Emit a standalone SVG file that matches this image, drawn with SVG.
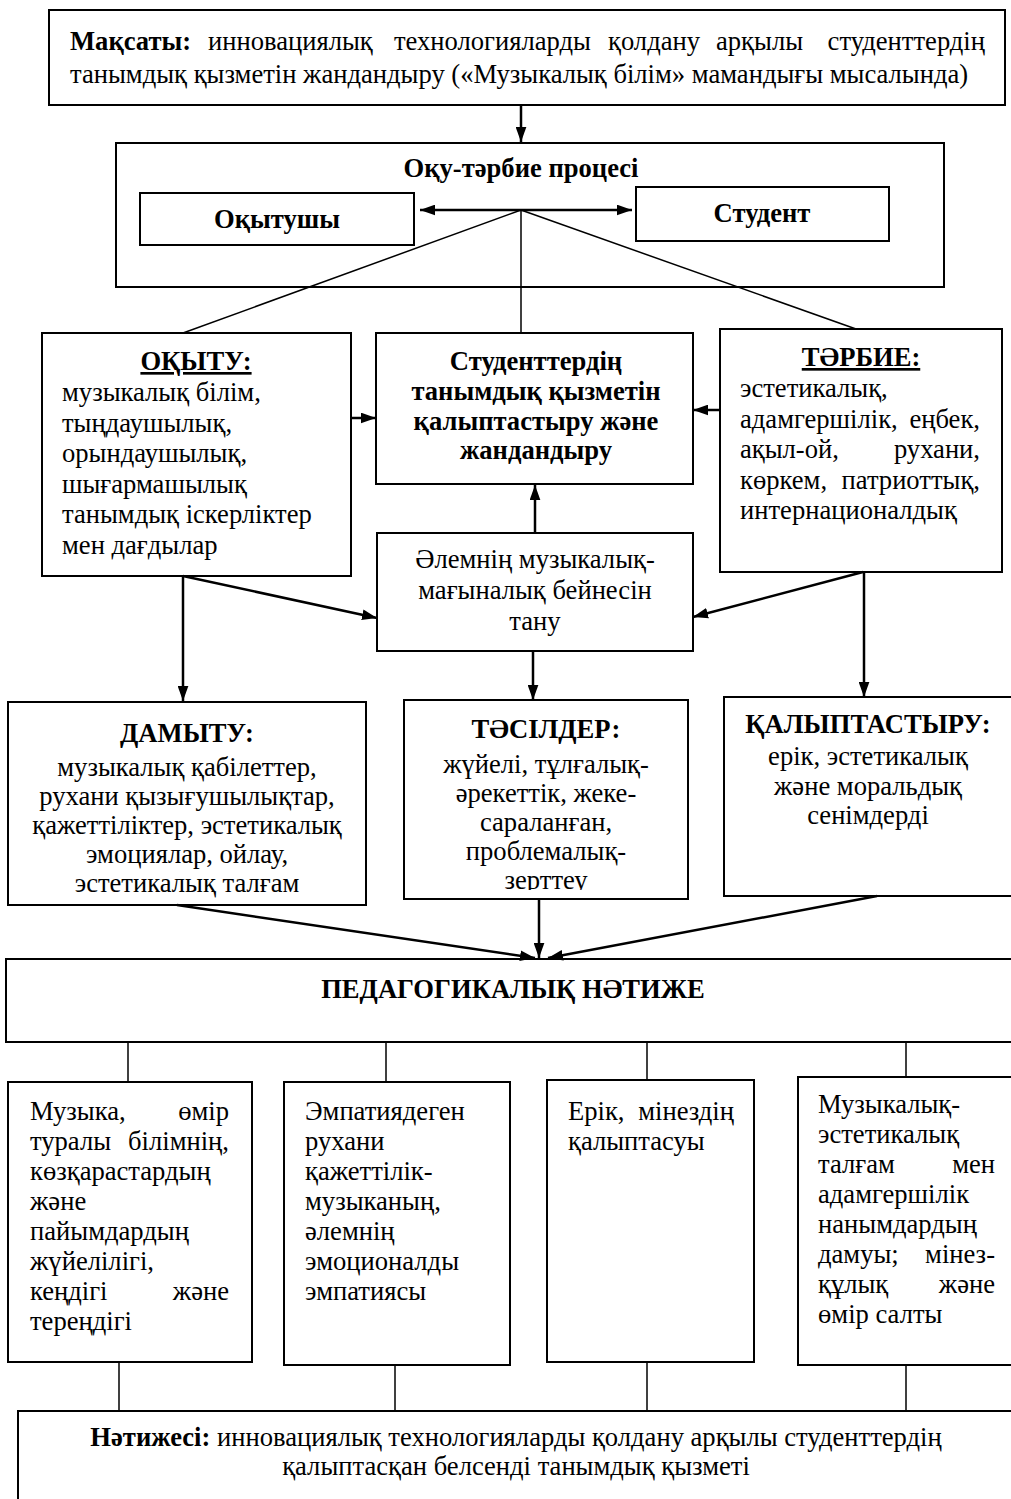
<svg xmlns="http://www.w3.org/2000/svg" width="1011" height="1499" viewBox="0 0 1011 1499">
<style>
text{font-family:"Liberation Serif","Times New Roman",serif;font-size:26.6px;fill:#000}
.b{font-weight:bold}
.c{text-anchor:middle}
.e{text-anchor:end}
.u{text-decoration:underline}
.box{fill:#fff;stroke:#000;stroke-width:2}
.ar{stroke:#000;stroke-width:2.5;fill:none}
.th{stroke:#000;stroke-width:1.5;fill:none}
</style>
<defs>
<marker id="ah" viewBox="0 0 14 10" refX="14" refY="5" markerWidth="15" markerHeight="11" markerUnits="userSpaceOnUse" orient="auto-start-reverse">
<path d="M0,0 L14,5 L0,10 Z" fill="#000"/>
</marker>
<clipPath id="clipT"><rect x="404" y="700" width="284" height="190"/></clipPath>
</defs>
<rect width="1011" height="1499" fill="#fff"/>

<g id="goal">
<rect class="box" x="49" y="10" width="956" height="95"/>
<text x="70" y="50" class="b">Мақсаты:</text>
<text x="208" y="50">инновациялық</text>
<text x="394" y="50">технологияларды</text>
<text x="608" y="50">қолдану</text>
<text x="716" y="50">арқылы</text>
<text x="985" y="50" class="e">студенттердің</text>
<text x="70" y="83">танымдық қызметін жандандыру («Музыкалық білім» мамандығы мысалында)</text>
</g>

<g id="process">
<rect class="box" x="116" y="143" width="828" height="144"/>
<text x="521" y="177" class="b c">Оқу-тәрбие процесі</text>
</g>
<g id="teacher">
<rect class="box" x="140" y="193" width="274" height="52"/>
<text x="277" y="228" class="b c">Оқытушы</text>
</g>
<g id="student">
<rect class="box" x="636" y="187" width="253" height="54"/>
<text x="762" y="222" class="b c">Студент</text>
</g>

<g id="oqytu">
<rect class="box" x="42" y="333" width="309" height="243"/>
<text x="196" y="370" class="b c u">ОҚЫТУ:</text>
<text x="62" y="401">музыкалық білім,</text>
<text x="62" y="432">тыңдаушылық,</text>
<text x="62" y="462">орындаушылық,</text>
<text x="62" y="493">шығармашылық</text>
<text x="62" y="523">танымдық іскерліктер</text>
<text x="62" y="554">мен дағдылар</text>
</g>

<g id="center">
<rect class="box" x="376" y="333" width="317" height="151"/>
<text x="536" y="370" class="b c">Студенттердің</text>
<text x="536" y="400" class="b c">танымдық қызметін</text>
<text x="536" y="430" class="b c">қалыптастыру және</text>
<text x="536" y="459" class="b c">жандандыру</text>
</g>

<g id="tarbie">
<rect class="box" x="720" y="329" width="282" height="243"/>
<text x="861" y="366" class="b c u">ТӘРБИЕ:</text>
<text x="740" y="397">эстетикалық,</text>
<text x="740" y="428">адамгершілік,</text>
<text x="980" y="428" class="e">еңбек,</text>
<text x="740" y="458">ақыл-ой,</text>
<text x="980" y="458" class="e">рухани,</text>
<text x="740" y="489">көркем,</text>
<text x="980" y="489" class="e">патриоттық,</text>
<text x="740" y="519">интернационалдық</text>
</g>

<g id="world">
<rect class="box" x="377" y="533" width="316" height="118"/>
<text x="535" y="568" class="c">Әлемнің музыкалық-</text>
<text x="535" y="599" class="c">мағыналық бейнесін</text>
<text x="535" y="630" class="c">тану</text>
</g>

<g id="damytu">
<rect class="box" x="8" y="702" width="358" height="203"/>
<text x="187" y="742" class="b c">ДАМЫТУ:</text>
<text x="187" y="776" class="c">музыкалық қабілеттер,</text>
<text x="187" y="805" class="c">рухани қызығушылықтар,</text>
<text x="187" y="834" class="c">қажеттіліктер, эстетикалық</text>
<text x="187" y="863" class="c">эмоциялар, ойлау,</text>
<text x="187" y="892" class="c">эстетикалық талғам</text>
</g>

<g id="tasilder">
<rect class="box" x="404" y="700" width="284" height="199"/>
<g clip-path="url(#clipT)">
<text x="546" y="738" class="b c">ТӘСІЛДЕР:</text>
<text x="546" y="773" class="c">жүйелі, тұлғалық-</text>
<text x="546" y="802" class="c">әрекеттік, жеке-</text>
<text x="546" y="831" class="c">сараланған,</text>
<text x="546" y="860" class="c">проблемалық-</text>
<text x="546" y="889" class="c">зерттеу</text>
</g>
</g>

<g id="qalyptastyru">
<rect class="box" x="724" y="697" width="290" height="199"/>
<text x="868" y="733" class="b c">ҚАЛЫПТАСТЫРУ:</text>
<text x="868" y="765" class="c">ерік, эстетикалық</text>
<text x="868" y="795" class="c">және моральдық</text>
<text x="868" y="824" class="c">сенімдерді</text>
</g>

<g id="pedresult">
<rect class="box" x="6" y="959" width="1010" height="83"/>
<text x="513" y="998" class="b c">ПЕДАГОГИКАЛЫҚ НӘТИЖЕ</text>
</g>

<g id="r1">
<rect class="box" x="8" y="1082" width="244" height="280"/>
<text x="30" y="1120">Музыка,</text>
<text x="229" y="1120" class="e">өмір</text>
<text x="30" y="1150">туралы</text>
<text x="229" y="1150" class="e">білімнің,</text>
<text x="30" y="1180">көзқарастардың</text>
<text x="30" y="1210">және</text>
<text x="30" y="1240">пайымдардың</text>
<text x="30" y="1270">жүйелілігі,</text>
<text x="30" y="1300">кеңдігі</text>
<text x="229" y="1300" class="e">және</text>
<text x="30" y="1330">тереңдігі</text>
</g>

<g id="r2">
<rect class="box" x="284" y="1082" width="226" height="283"/>
<text x="305" y="1120">Эмпатиядеген</text>
<text x="305" y="1150">рухани</text>
<text x="305" y="1180">қажеттілік-</text>
<text x="305" y="1210">музыканың,</text>
<text x="305" y="1240">әлемнің</text>
<text x="305" y="1270">эмоционалды</text>
<text x="305" y="1300">эмпатиясы</text>
</g>

<g id="r3">
<rect class="box" x="547" y="1080" width="207" height="282"/>
<text x="568" y="1120">Ерік,</text>
<text x="734" y="1120" class="e">мінездің</text>
<text x="568" y="1150">қалыптасуы</text>
</g>

<g id="r4">
<rect class="box" x="798" y="1077" width="220" height="288"/>
<text x="818" y="1113">Музыкалық-</text>
<text x="818" y="1143">эстетикалық</text>
<text x="818" y="1173">талғам</text>
<text x="995" y="1173" class="e">мен</text>
<text x="818" y="1203">адамгершілік</text>
<text x="818" y="1233">нанымдардың</text>
<text x="818" y="1263">дамуы;</text>
<text x="995" y="1263" class="e">мінез-</text>
<text x="818" y="1293">құлық</text>
<text x="995" y="1293" class="e">және</text>
<text x="818" y="1323">өмір салты</text>
</g>

<g id="final">
<rect class="box" x="18" y="1411" width="1000" height="100"/>
<text x="516" y="1446" class="c"><tspan class="b">Нәтижесі:</tspan> инновациялық технологияларды қолдану арқылы студенттердің</text>
<text x="516" y="1475" class="c">қалыптасқан белсенді танымдық қызметі</text>
</g>

<g id="connectors">
<line class="ar" x1="521" y1="105" x2="521" y2="142" marker-end="url(#ah)"/>
<line class="ar" x1="420" y1="210" x2="632" y2="210" marker-start="url(#ah)" marker-end="url(#ah)"/>
<line class="th" x1="521" y1="210" x2="183" y2="333"/>
<line class="th" x1="521" y1="210" x2="521" y2="333"/>
<line class="th" x1="521" y1="210" x2="856" y2="329"/>
<line class="ar" x1="351" y1="418" x2="376" y2="418" marker-end="url(#ah)"/>
<line class="ar" x1="720" y1="410" x2="693" y2="410" marker-end="url(#ah)"/>
<line class="ar" x1="535" y1="533" x2="535" y2="485" marker-end="url(#ah)"/>
<line class="ar" x1="183" y1="576" x2="377" y2="618" marker-end="url(#ah)"/>
<line class="ar" x1="863" y1="572" x2="693" y2="617" marker-end="url(#ah)"/>
<line class="ar" x1="183" y1="576" x2="183" y2="701" marker-end="url(#ah)"/>
<line class="ar" x1="533" y1="651" x2="533" y2="700" marker-end="url(#ah)"/>
<line class="ar" x1="864" y1="572" x2="864" y2="697" marker-end="url(#ah)"/>
<line class="ar" x1="177" y1="905" x2="535" y2="958" marker-end="url(#ah)"/>
<line class="ar" x1="539" y1="899" x2="539" y2="958" marker-end="url(#ah)"/>
<line class="ar" x1="877" y1="896" x2="548" y2="958" marker-end="url(#ah)"/>
<line class="th" x1="128" y1="1042" x2="128" y2="1081"/>
<line class="th" x1="386" y1="1042" x2="386" y2="1082"/>
<line class="th" x1="647" y1="1042" x2="647" y2="1080"/>
<line class="th" x1="906" y1="1042" x2="906" y2="1077"/>
<line class="th" x1="119" y1="1362" x2="119" y2="1411"/>
<line class="th" x1="395" y1="1365" x2="395" y2="1411"/>
<line class="th" x1="647" y1="1362" x2="647" y2="1411"/>
<line class="th" x1="906" y1="1365" x2="906" y2="1411"/>
</g>
</svg>
